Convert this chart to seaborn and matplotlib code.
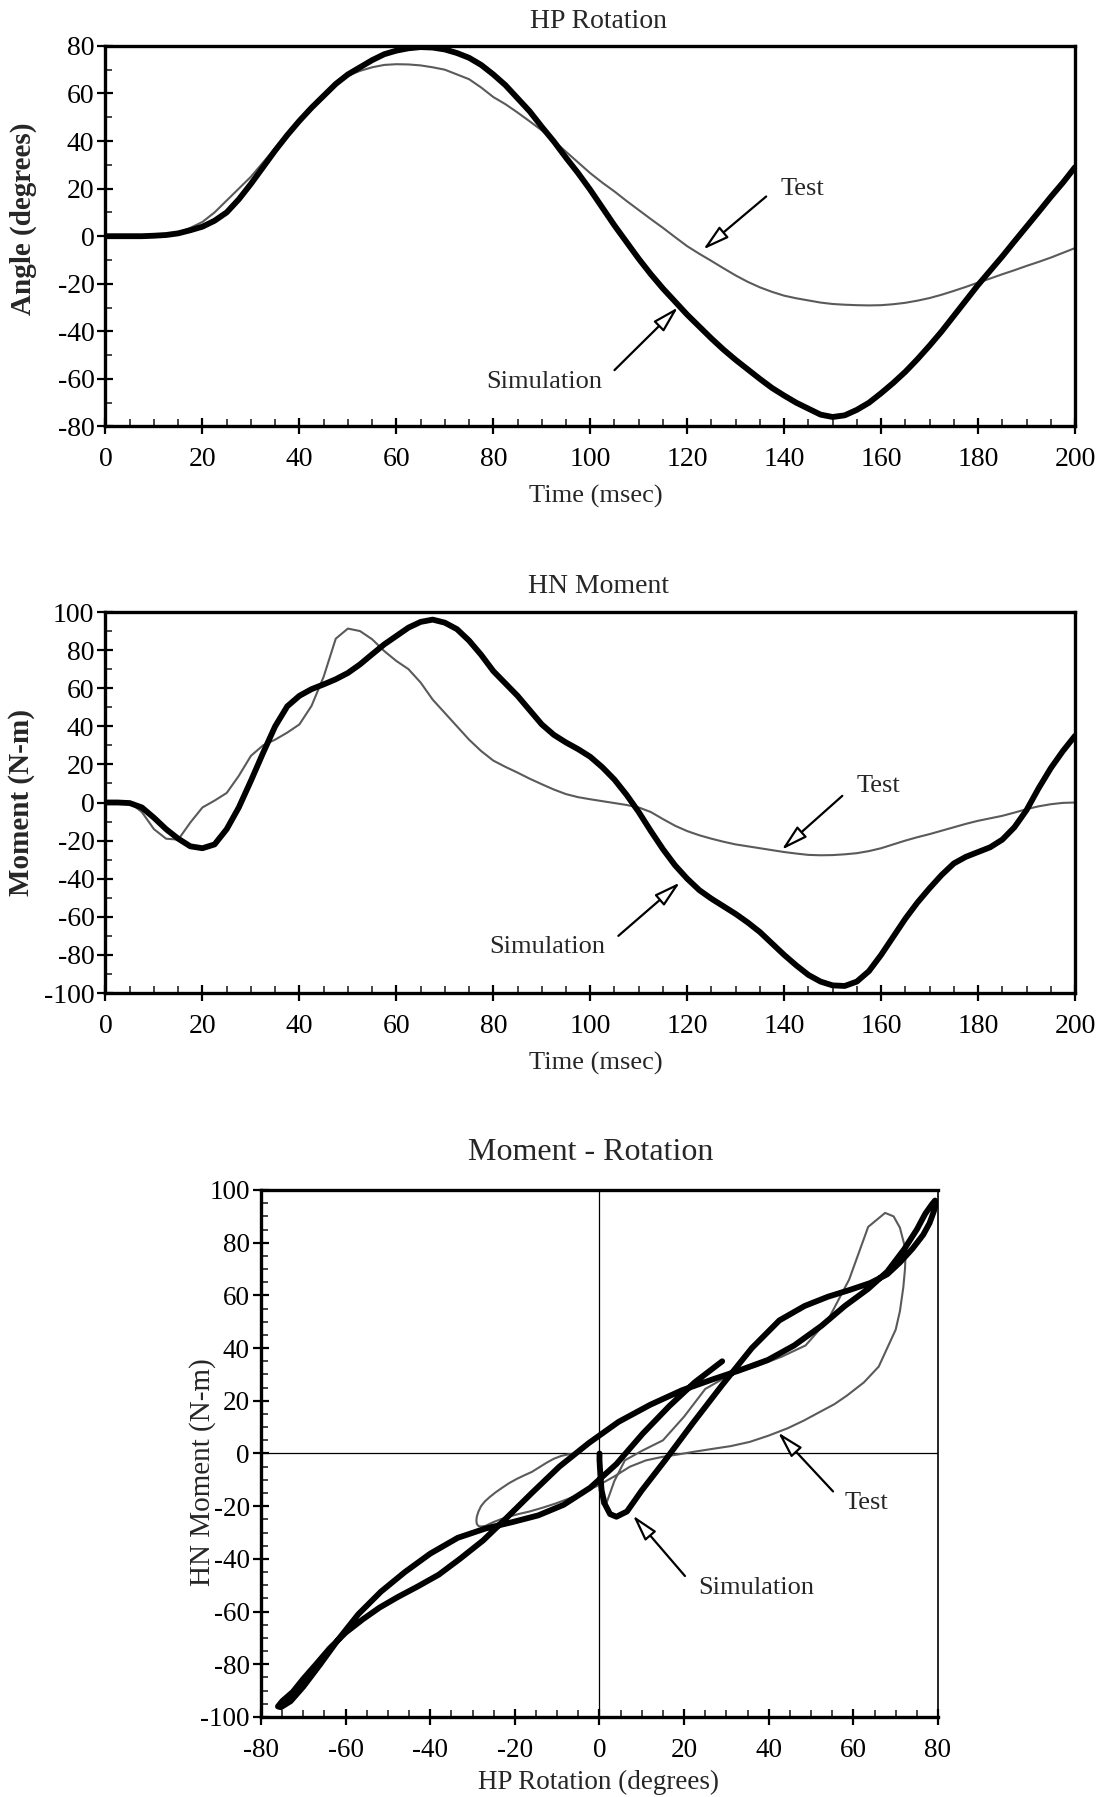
import matplotlib
matplotlib.use("Agg")
import matplotlib.pyplot as plt
import numpy as np
import pandas as pd
import seaborn as sns
from matplotlib.ticker import MultipleLocator

# ---------------- data ----------------
time_ms = [0, 2.5, 5, 7.5, 10, 12.5, 15, 17.5, 20, 22.5, 25, 27.5, 30, 32.5, 35, 37.5,
           40, 42.5, 45, 47.5, 50, 52.5, 55, 57.5, 60, 62.5, 65, 67.5, 70, 72.5, 75, 77.5,
           80, 82.5, 85, 87.5, 90, 92.5, 95, 97.5, 100, 102.5, 105, 107.5, 110, 112.5, 115, 117.5,
           120, 122.5, 125, 127.5, 130, 132.5, 135, 137.5, 140, 142.5, 145, 147.5, 150, 152.5, 155, 157.5,
           160, 162.5, 165, 167.5, 170, 172.5, 175, 177.5, 180, 182.5, 185, 187.5, 190, 192.5, 195, 197.5,
           200]

angle_sim = [0, 0, 0, 0, 0.2, 0.5, 1.2, 2.5, 4, 6.5, 10, 15.5, 22, 29, 36, 42.5,
             48.5, 54, 59, 64, 68, 71, 74, 76.5, 78, 79, 79.5, 79.3, 78.5, 77, 75, 72,
             68, 63.5, 58, 52.5, 46, 39.8, 33, 26.5, 19.5, 12, 4.5, -2.5, -9.5, -16, -22, -27.5,
             -33, -38, -43, -47.7, -52, -56, -60, -63.8, -67, -70, -72.5, -75, -76, -75.3, -73, -70,
             -66, -61.7, -57, -51.7, -46, -40, -33.5, -27, -20.5, -14.5, -8.5, -2.2, 4, 10.2, 16.5, 22.5,
             29]

angle_test = [0, 0, 0, 0, 0.2, 0.6, 1.5, 3.5, 6, 10, 15, 20, 25, 31, 37, 43,
              48.7, 54, 59, 63.5, 67.5, 69.5, 71, 72, 72.3, 72.2, 71.8, 71, 70, 68, 66, 62.5,
              58.5, 55.5, 52, 48.3, 44.5, 40, 35.5, 31, 26.5, 22.5, 18.8, 14.8, 11, 7.2, 3.5, -0.4,
              -4.2, -7.4, -10.4, -13.5, -16.5, -19.2, -21.5, -23.4, -25, -26.1, -27, -27.9, -28.5, -28.8, -29, -29.1,
              -29, -28.6, -28, -27.1, -26, -24.6, -23, -21.3, -19.5, -17.8, -16, -14.3, -12.5, -10.8, -9, -7,
              -5]

moment_sim = [0, 0, -0.3, -2.6, -8, -14, -19, -23, -24, -22, -14, -2.6, 11.4, 26, 40, 50.5,
              56, 59.5, 62, 64.7, 68, 72.5, 77.8, 83, 87.4, 91.8, 94.8, 96, 94.4, 91, 85, 77.5,
              69, 62.5, 56, 48.5, 41, 35.5, 31.5, 28, 24, 18.5, 12, 4, -5, -15, -24.5, -33,
              -40, -46, -50.5, -54.5, -58.5, -63, -68, -74, -80, -85.5, -90.5, -94, -96, -96.3, -94, -88.5,
              -80, -70.5, -61, -52.5, -45, -38, -32, -28.5, -26, -23.5, -19.5, -13, -4, 7.5, 18, 27,
              35]

moment_test = [0, 0, 0, -5, -14, -19, -19.5, -10.5, -2.6, 1, 5, 14, 24.5, 30, 33, 36.7,
               41, 50.7, 66, 86, 91.3, 90, 85.7, 79.5, 74.3, 70, 63, 54, 47, 40, 33, 27,
               22, 18.7, 15.7, 12.5, 9.6, 6.8, 4.4, 2.8, 1.7, 0.7, -0.3, -1.3, -2.6, -5, -8.7, -12.2,
               -15, -17.2, -19, -20.6, -22, -23, -24, -25, -26, -26.8, -27.5, -27.7, -27.6, -27.2, -26.6, -25.5,
               -24, -22, -20, -18.2, -16.6, -14.8, -13, -11.2, -9.6, -8.3, -7, -5.3, -3.5, -2, -0.9, -0.2,
               0]

titles = ["HP Rotation", "HN Moment", "Moment - Rotation"]
xlabels = ["Time (msec)", "Time (msec)", "HP Rotation (degrees)"]
ylabels = ["Angle (degrees)", "Moment (N-m)", "HN Moment (N-m)"]

df = pd.DataFrame({"time": time_ms, "angle_sim": angle_sim, "angle_test": angle_test,
                   "moment_sim": moment_sim, "moment_test": moment_test})

# ---------------- style ----------------
sns.set_style("white")
plt.rcParams["font.family"] = ["Liberation Serif", "DejaVu Serif"]
plt.rcParams["axes.unicode_minus"] = False

SIM_C = "black"
TEST_C = "#5a5a5a"
SIM_LW = 4.2
TEST_LW = 1.5

fig = plt.figure(figsize=(11.04, 17.97), dpi=100)
ax1 = fig.add_axes([0.09556, 0.76266, 0.87817, 0.21180])
ax2 = fig.add_axes([0.09556, 0.44741, 0.87817, 0.21202])
ax3 = fig.add_axes([0.23641, 0.04452, 0.61322, 0.29327])

arrow_kw = dict(arrowstyle="-|>,head_length=0.8,head_width=0.22", mutation_scale=20,
                fc="white", ec="black", lw=1.6, shrinkA=0, shrinkB=0)


def style_axes(ax, xlim, ylim, xmaj, xmin, ymaj, ymin, labelsize, xpad, ypad, right_lw=2.4):
    ax.set_xlim(*xlim)
    ax.set_ylim(*ylim)
    ax.xaxis.set_major_locator(MultipleLocator(xmaj))
    ax.xaxis.set_minor_locator(MultipleLocator(xmin))
    ax.yaxis.set_major_locator(MultipleLocator(ymaj))
    ax.yaxis.set_minor_locator(MultipleLocator(ymin))
    ax.tick_params(which="major", direction="inout", length=12, width=1.6,
                   labelsize=labelsize, colors="black", top=False, right=False)
    ax.tick_params(which="minor", direction="in", length=5, width=1.2,
                   top=False, right=False, bottom=True, left=True)
    ax.tick_params(axis="x", which="major", pad=xpad, bottom=True)
    ax.tick_params(axis="y", which="major", pad=ypad, left=True)
    for s in ["left", "bottom", "top"]:
        ax.spines[s].set_linewidth(2.4)
        ax.spines[s].set_color("black")
    ax.spines["right"].set_linewidth(right_lw)
    ax.spines["right"].set_color("black")
    ax.set_facecolor("white")


# ---------------- panel 1: HP Rotation ----------------
sns.lineplot(data=df, x="time", y="angle_test", ax=ax1, color=TEST_C, lw=TEST_LW, estimator=None)
sns.lineplot(data=df, x="time", y="angle_sim", ax=ax1, color=SIM_C, lw=SIM_LW, estimator=None)
style_axes(ax1, (0, 200), (-80, 80), 20, 5, 20, 10, 20, 9, 2)
ax1.text(0.508, 1.0636, titles[0], transform=ax1.transAxes, ha="center", va="center", fontsize=20)
ax1.set_xlabel(xlabels[0], fontsize=19)
ax1.xaxis.set_label_coords(0.506, -0.185)
ax1.xaxis.label.set_va("center")
ax1.set_ylabel(ylabels[0], fontsize=21, fontweight="bold")
ax1.yaxis.set_label_coords(-0.085, 0.545)
ax1.yaxis.label.set_va("center")
ax1.annotate("", xy=(123.3, -5.6), xytext=(136.3, 16.7), arrowprops=arrow_kw)
ax1.text(143.7, 19.7, "Test", ha="center", va="center", fontsize=19)
ax1.annotate("", xy=(118.1, -29.9), xytext=(105, -56.3), arrowprops=arrow_kw)
ax1.text(90.5, -61.2, "Simulation", ha="center", va="center", fontsize=19)

# ---------------- panel 2: HN Moment ----------------
sns.lineplot(data=df, x="time", y="moment_test", ax=ax2, color=TEST_C, lw=TEST_LW, estimator=None)
sns.lineplot(data=df, x="time", y="moment_sim", ax=ax2, color=SIM_C, lw=SIM_LW, estimator=None)
style_axes(ax2, (0, 200), (-100, 100), 20, 5, 20, 10, 20, 9, 2)
ax2.text(0.508, 1.0667, titles[1], transform=ax2.transAxes, ha="center", va="center", fontsize=20)
ax2.set_xlabel(xlabels[1], fontsize=19)
ax2.xaxis.set_label_coords(0.506, -0.184)
ax2.xaxis.label.set_va("center")
ax2.set_ylabel(ylabels[1], fontsize=21, fontweight="bold")
ax2.yaxis.set_label_coords(-0.087, 0.5)
ax2.yaxis.label.set_va("center")
ax2.annotate("", xy=(139.5, -24.8), xytext=(152, 3.5), arrowprops=arrow_kw)
ax2.text(159.4, 8.7, "Test", ha="center", va="center", fontsize=19)
ax2.annotate("", xy=(118.5, -42), xytext=(105.8, -70), arrowprops=arrow_kw)
ax2.text(91.1, -75.9, "Simulation", ha="center", va="center", fontsize=19)

# ---------------- panel 3: Moment - Rotation ----------------
ax3.axhline(0, color="black", lw=0.9, zorder=1)
ax3.axvline(0, color="black", lw=0.9, zorder=1)
sns.lineplot(data=df, x="angle_test", y="moment_test", ax=ax3, color=TEST_C, lw=TEST_LW,
             sort=False, estimator=None)
sns.lineplot(data=df, x="angle_sim", y="moment_sim", ax=ax3, color=SIM_C, lw=SIM_LW,
             sort=False, estimator=None)
style_axes(ax3, (-80, 80), (-100, 100), 20, 5, 20, 5, 19.5, 9, 2, right_lw=1.2)
ax3.text(0.487, 1.072, titles[2], transform=ax3.transAxes, ha="center", va="center", fontsize=23)
ax3.set_xlabel(xlabels[2], fontsize=19.5)
ax3.xaxis.set_label_coords(0.499, -0.124)
ax3.xaxis.label.set_va("center")
ax3.set_ylabel(ylabels[2], fontsize=21)
ax3.yaxis.set_label_coords(-0.086, 0.465)
ax3.yaxis.label.set_va("center")
ax3.annotate("", xy=(42.2, 8), xytext=(55.2, -14.4), arrowprops=arrow_kw)
ax3.text(63, -18.9, "Test", ha="center", va="center", fontsize=19)
ax3.annotate("", xy=(7.9, -23.5), xytext=(20.2, -46.5), arrowprops=arrow_kw)
ax3.text(37.1, -51, "Simulation", ha="center", va="center", fontsize=19)

fig.savefig("out.png", dpi=100, facecolor="white")
